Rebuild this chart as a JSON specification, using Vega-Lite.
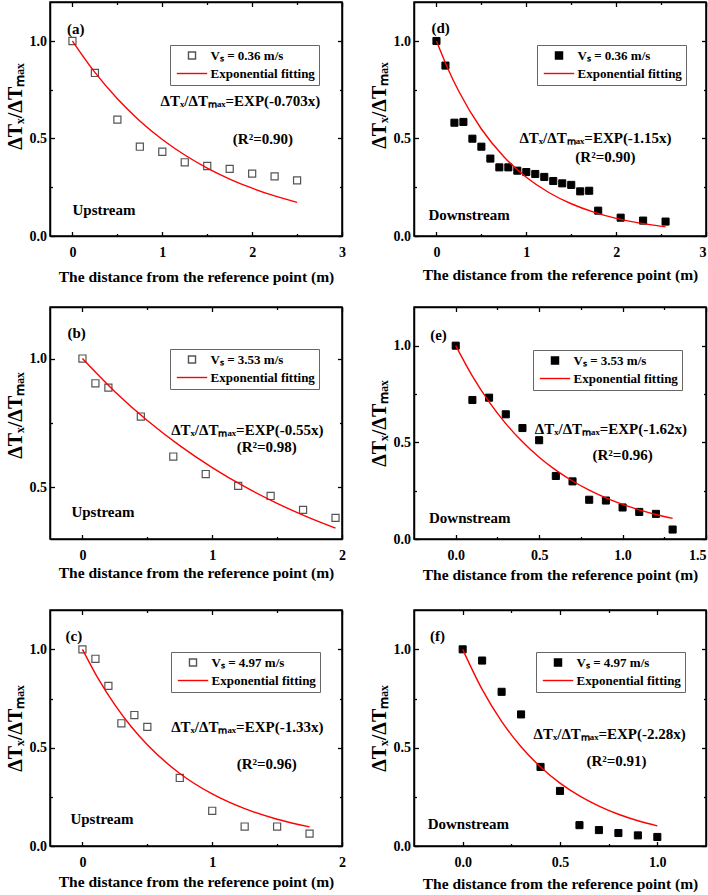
{
"$schema": "https://vega.github.io/schema/vega-lite/v6.json",
"padding": {"left": 4, "top": 0, "right": 2, "bottom": 2},
"background": "white",
"datasets": {
"obs": [
{"p":"a","s":"Vₛ = 0.36 m/s","x":0,"y":1.0},{"p":"a","s":"Vₛ = 0.36 m/s","x":0.25,"y":0.836},{"p":"a","s":"Vₛ = 0.36 m/s","x":0.5,"y":0.597},{"p":"a","s":"Vₛ = 0.36 m/s","x":0.75,"y":0.458},{"p":"a","s":"Vₛ = 0.36 m/s","x":1.0,"y":0.432},{"p":"a","s":"Vₛ = 0.36 m/s","x":1.25,"y":0.378},{"p":"a","s":"Vₛ = 0.36 m/s","x":1.5,"y":0.359},{"p":"a","s":"Vₛ = 0.36 m/s","x":1.75,"y":0.344},{"p":"a","s":"Vₛ = 0.36 m/s","x":2.0,"y":0.320},{"p":"a","s":"Vₛ = 0.36 m/s","x":2.25,"y":0.306},{"p":"a","s":"Vₛ = 0.36 m/s","x":2.5,"y":0.285},
{"p":"b","s":"Vₛ = 3.53 m/s","x":0,"y":1.0},{"p":"b","s":"Vₛ = 3.53 m/s","x":0.1,"y":0.904},{"p":"b","s":"Vₛ = 3.53 m/s","x":0.2,"y":0.887},{"p":"b","s":"Vₛ = 3.53 m/s","x":0.45,"y":0.775},{"p":"b","s":"Vₛ = 3.53 m/s","x":0.7,"y":0.620},{"p":"b","s":"Vₛ = 3.53 m/s","x":0.95,"y":0.552},{"p":"b","s":"Vₛ = 3.53 m/s","x":1.2,"y":0.506},{"p":"b","s":"Vₛ = 3.53 m/s","x":1.45,"y":0.467},{"p":"b","s":"Vₛ = 3.53 m/s","x":1.7,"y":0.413},{"p":"b","s":"Vₛ = 3.53 m/s","x":1.95,"y":0.382},
{"p":"c","s":"Vₛ = 4.97 m/s","x":0,"y":1.0},{"p":"c","s":"Vₛ = 4.97 m/s","x":0.1,"y":0.952},{"p":"c","s":"Vₛ = 4.97 m/s","x":0.2,"y":0.814},{"p":"c","s":"Vₛ = 4.97 m/s","x":0.3,"y":0.624},{"p":"c","s":"Vₛ = 4.97 m/s","x":0.4,"y":0.666},{"p":"c","s":"Vₛ = 4.97 m/s","x":0.5,"y":0.606},{"p":"c","s":"Vₛ = 4.97 m/s","x":0.75,"y":0.346},{"p":"c","s":"Vₛ = 4.97 m/s","x":1.0,"y":0.179},{"p":"c","s":"Vₛ = 4.97 m/s","x":1.25,"y":0.099},{"p":"c","s":"Vₛ = 4.97 m/s","x":1.5,"y":0.099},{"p":"c","s":"Vₛ = 4.97 m/s","x":1.75,"y":0.063},
{"p":"d","s":"Vₛ = 0.36 m/s","x":0,"y":1.0},{"p":"d","s":"Vₛ = 0.36 m/s","x":0.1,"y":0.874},{"p":"d","s":"Vₛ = 0.36 m/s","x":0.2,"y":0.581},{"p":"d","s":"Vₛ = 0.36 m/s","x":0.3,"y":0.585},{"p":"d","s":"Vₛ = 0.36 m/s","x":0.4,"y":0.499},{"p":"d","s":"Vₛ = 0.36 m/s","x":0.5,"y":0.458},{"p":"d","s":"Vₛ = 0.36 m/s","x":0.6,"y":0.397},{"p":"d","s":"Vₛ = 0.36 m/s","x":0.7,"y":0.352},{"p":"d","s":"Vₛ = 0.36 m/s","x":0.8,"y":0.352},{"p":"d","s":"Vₛ = 0.36 m/s","x":0.9,"y":0.335},{"p":"d","s":"Vₛ = 0.36 m/s","x":1.0,"y":0.328},{"p":"d","s":"Vₛ = 0.36 m/s","x":1.1,"y":0.318},{"p":"d","s":"Vₛ = 0.36 m/s","x":1.2,"y":0.303},{"p":"d","s":"Vₛ = 0.36 m/s","x":1.3,"y":0.282},{"p":"d","s":"Vₛ = 0.36 m/s","x":1.4,"y":0.270},{"p":"d","s":"Vₛ = 0.36 m/s","x":1.5,"y":0.262},{"p":"d","s":"Vₛ = 0.36 m/s","x":1.6,"y":0.229},{"p":"d","s":"Vₛ = 0.36 m/s","x":1.7,"y":0.232},{"p":"d","s":"Vₛ = 0.36 m/s","x":1.8,"y":0.130},{"p":"d","s":"Vₛ = 0.36 m/s","x":2.05,"y":0.094},{"p":"d","s":"Vₛ = 0.36 m/s","x":2.3,"y":0.079},{"p":"d","s":"Vₛ = 0.36 m/s","x":2.55,"y":0.074},
{"p":"e","s":"Vₛ = 3.53 m/s","x":0,"y":1.0},{"p":"e","s":"Vₛ = 3.53 m/s","x":0.1,"y":0.719},{"p":"e","s":"Vₛ = 3.53 m/s","x":0.2,"y":0.731},{"p":"e","s":"Vₛ = 3.53 m/s","x":0.3,"y":0.645},{"p":"e","s":"Vₛ = 3.53 m/s","x":0.4,"y":0.574},{"p":"e","s":"Vₛ = 3.53 m/s","x":0.5,"y":0.511},{"p":"e","s":"Vₛ = 3.53 m/s","x":0.6,"y":0.326},{"p":"e","s":"Vₛ = 3.53 m/s","x":0.7,"y":0.298},{"p":"e","s":"Vₛ = 3.53 m/s","x":0.8,"y":0.203},{"p":"e","s":"Vₛ = 3.53 m/s","x":0.9,"y":0.199},{"p":"e","s":"Vₛ = 3.53 m/s","x":1.0,"y":0.163},{"p":"e","s":"Vₛ = 3.53 m/s","x":1.1,"y":0.140},{"p":"e","s":"Vₛ = 3.53 m/s","x":1.2,"y":0.130},{"p":"e","s":"Vₛ = 3.53 m/s","x":1.3,"y":0.049},
{"p":"f","s":"Vₛ = 4.97 m/s","x":0,"y":1.0},{"p":"f","s":"Vₛ = 4.97 m/s","x":0.1,"y":0.943},{"p":"f","s":"Vₛ = 4.97 m/s","x":0.2,"y":0.784},{"p":"f","s":"Vₛ = 4.97 m/s","x":0.3,"y":0.669},{"p":"f","s":"Vₛ = 4.97 m/s","x":0.4,"y":0.402},{"p":"f","s":"Vₛ = 4.97 m/s","x":0.5,"y":0.280},{"p":"f","s":"Vₛ = 4.97 m/s","x":0.6,"y":0.106},{"p":"f","s":"Vₛ = 4.97 m/s","x":0.7,"y":0.081},{"p":"f","s":"Vₛ = 4.97 m/s","x":0.8,"y":0.066},{"p":"f","s":"Vₛ = 4.97 m/s","x":0.9,"y":0.054},{"p":"f","s":"Vₛ = 4.97 m/s","x":1.0,"y":0.046}
],
"fit": [
{"p":"a","s":"Exponential fitting","x":0,"y":1},{"p":"a","s":"Exponential fitting","x":0.25,"y":0.8388},{"p":"a","s":"Exponential fitting","x":0.5,"y":0.7036},{"p":"a","s":"Exponential fitting","x":0.75,"y":0.5902},{"p":"a","s":"Exponential fitting","x":1,"y":0.4951},{"p":"a","s":"Exponential fitting","x":1.25,"y":0.4153},{"p":"a","s":"Exponential fitting","x":1.5,"y":0.3484},{"p":"a","s":"Exponential fitting","x":1.75,"y":0.2922},{"p":"a","s":"Exponential fitting","x":2,"y":0.2451},{"p":"a","s":"Exponential fitting","x":2.25,"y":0.2056},{"p":"a","s":"Exponential fitting","x":2.5,"y":0.1725},
{"p":"b","s":"Exponential fitting","x":0,"y":1},{"p":"b","s":"Exponential fitting","x":0.25,"y":0.8715},{"p":"b","s":"Exponential fitting","x":0.5,"y":0.7596},{"p":"b","s":"Exponential fitting","x":0.75,"y":0.662},{"p":"b","s":"Exponential fitting","x":1,"y":0.5769},{"p":"b","s":"Exponential fitting","x":1.25,"y":0.5028},{"p":"b","s":"Exponential fitting","x":1.5,"y":0.4382},{"p":"b","s":"Exponential fitting","x":1.75,"y":0.3819},{"p":"b","s":"Exponential fitting","x":1.95,"y":0.3421},
{"p":"c","s":"Exponential fitting","x":0,"y":1},{"p":"c","s":"Exponential fitting","x":0.125,"y":0.8468},{"p":"c","s":"Exponential fitting","x":0.25,"y":0.7171},{"p":"c","s":"Exponential fitting","x":0.375,"y":0.6073},{"p":"c","s":"Exponential fitting","x":0.5,"y":0.5143},{"p":"c","s":"Exponential fitting","x":0.75,"y":0.3688},{"p":"c","s":"Exponential fitting","x":1,"y":0.2645},{"p":"c","s":"Exponential fitting","x":1.25,"y":0.1897},{"p":"c","s":"Exponential fitting","x":1.5,"y":0.136},{"p":"c","s":"Exponential fitting","x":1.75,"y":0.0975},
{"p":"d","s":"Exponential fitting","x":0,"y":1},{"p":"d","s":"Exponential fitting","x":0.125,"y":0.8607},{"p":"d","s":"Exponential fitting","x":0.25,"y":0.7408},{"p":"d","s":"Exponential fitting","x":0.5,"y":0.5488},{"p":"d","s":"Exponential fitting","x":0.75,"y":0.4066},{"p":"d","s":"Exponential fitting","x":1,"y":0.3012},{"p":"d","s":"Exponential fitting","x":1.25,"y":0.2231},{"p":"d","s":"Exponential fitting","x":1.5,"y":0.1653},{"p":"d","s":"Exponential fitting","x":1.75,"y":0.1225},{"p":"d","s":"Exponential fitting","x":2,"y":0.0907},{"p":"d","s":"Exponential fitting","x":2.25,"y":0.0672},{"p":"d","s":"Exponential fitting","x":2.55,"y":0.0469},
{"p":"e","s":"Exponential fitting","x":0,"y":1},{"p":"e","s":"Exponential fitting","x":0.1,"y":0.842},{"p":"e","s":"Exponential fitting","x":0.2,"y":0.709},{"p":"e","s":"Exponential fitting","x":0.3,"y":0.597},{"p":"e","s":"Exponential fitting","x":0.4,"y":0.503},{"p":"e","s":"Exponential fitting","x":0.5,"y":0.423},{"p":"e","s":"Exponential fitting","x":0.6,"y":0.356},{"p":"e","s":"Exponential fitting","x":0.7,"y":0.300},{"p":"e","s":"Exponential fitting","x":0.8,"y":0.253},{"p":"e","s":"Exponential fitting","x":0.9,"y":0.213},{"p":"e","s":"Exponential fitting","x":1.0,"y":0.179},{"p":"e","s":"Exponential fitting","x":1.1,"y":0.151},{"p":"e","s":"Exponential fitting","x":1.2,"y":0.127},{"p":"e","s":"Exponential fitting","x":1.3,"y":0.107},
{"p":"f","s":"Exponential fitting","x":0,"y":1},{"p":"f","s":"Exponential fitting","x":0.1,"y":0.7961},{"p":"f","s":"Exponential fitting","x":0.2,"y":0.6338},{"p":"f","s":"Exponential fitting","x":0.3,"y":0.5046},{"p":"f","s":"Exponential fitting","x":0.4,"y":0.4017},{"p":"f","s":"Exponential fitting","x":0.5,"y":0.3198},{"p":"f","s":"Exponential fitting","x":0.6,"y":0.2546},{"p":"f","s":"Exponential fitting","x":0.7,"y":0.2027},{"p":"f","s":"Exponential fitting","x":0.8,"y":0.1614},{"p":"f","s":"Exponential fitting","x":0.9,"y":0.1285},{"p":"f","s":"Exponential fitting","x":1.0,"y":0.1023}
]
},
"columns": 2,
"spacing": {"row": 71, "column": 72},
"bounds": "flush",
"resolve": {"scale": {"x": "independent", "y": "independent", "shape": "independent", "stroke": "independent", "fill": "independent"}, "legend": {"shape": "independent", "stroke": "independent", "fill": "independent"}},
"concat": [
{
"width": 292, "height": 234,
"layer": [
{"data": {"name": "obs"}, "transform": [{"filter": "datum.p === 'a'"}],
 "mark": {"type": "point", "filled": false, "opacity": 1, "strokeWidth": 1.2, "size": 50},
 "encoding": {
  "x": {"field": "x", "type": "quantitative", "scale": {"domain": [-0.25, 3], "nice": false, "zero": false},
   "axis": {"orient": "bottom", "values": [0,0.5,1,1.5,2,2.5,3], "labelExpr": "abs(datum.value - round(datum.value)) > 0.01 ? '' : format(datum.value, 'd')", "tickSize": {"condition": {"test": "abs(datum.value - round(datum.value)) > 0.01", "value": -2.5}, "value": -4.5}, "labelPadding": 13.5, "title": "The distance from the reference point (m)", "titlePadding": 8}},
  "y": {"field": "y", "type": "quantitative", "scale": {"domain": [0, 1.2], "nice": false, "zero": false},
   "axis": {"orient": "left", "values": [0,0.25,0.5,0.75,1], "labelExpr": "abs(datum.value*2 - round(datum.value*2)) > 0.01 ? '' : format(datum.value, '.1f')", "tickSize": {"condition": {"test": "abs(datum.value*2 - round(datum.value*2)) > 0.01", "value": -2.5}, "value": -4.5}, "labelPadding": 8, "title": "ΔTₓ/ΔTₘₐₓ", "titleFontSize": 20, "titlePadding": 4, "titleY": 104}},
  "shape": {"field": "s", "type": "nominal", "scale": {"domain": ["Vₛ = 0.36 m/s", "Exponential fitting"], "range": ["square", "M-4.3,0L4.3,0"]}, "legend": {"orient": "none", "legendX": 120, "legendY": 43, "title": null}},
  "stroke": {"field": "s", "type": "nominal", "scale": {"domain": ["Vₛ = 0.36 m/s", "Exponential fitting"], "range": ["#555555", "#ff0000"]}, "legend": {"orient": "none", "legendX": 120, "legendY": 43, "title": null}}
 }},
{"data": {"name": "fit"}, "transform": [{"filter": "datum.p === 'a'"}],
 "mark": {"type": "line", "strokeWidth": 1.4, "interpolate": "monotone"},
 "encoding": {
  "x": {"field": "x", "type": "quantitative", "scale": {"domain": [-0.25, 3], "nice": false, "zero": false},
   "axis": {"orient": "top", "values": [0,0.5,1,1.5,2,2.5,3], "labels": false, "title": null, "tickSize": {"condition": {"test": "abs(datum.value - round(datum.value)) > 0.01", "value": -2.5}, "value": -4.5}}},
  "y": {"field": "y", "type": "quantitative", "scale": {"domain": [0, 1.2], "nice": false, "zero": false},
   "axis": {"orient": "right", "values": [0,0.25,0.5,0.75,1], "labels": false, "title": null, "tickSize": {"condition": {"test": "abs(datum.value*2 - round(datum.value*2)) > 0.01", "value": -2.5}, "value": -4.5}}},
  "stroke": {"field": "s", "type": "nominal", "legend": {"orient": "none", "legendX": 120, "legendY": 43, "title": null}}
 }},
{"data": {"values": [{}]}, "mark": {"type": "text", "text": "(a)", "align": "left"}, "encoding": {"x": {"datum": -0.06, "type": "quantitative", "axis": null}, "y": {"datum": 1.062, "type": "quantitative", "axis": null}}},
{"data": {"values": [{}]}, "mark": {"type": "text", "text": "Upstream", "align": "left"}, "encoding": {"x": {"datum": 0.0, "type": "quantitative", "axis": null}, "y": {"datum": 0.133, "type": "quantitative", "axis": null}}},
{"data": {"values": [{}]}, "mark": {"type": "text", "text": "ΔTₓ/ΔTₘₐₓ=EXP(-0.703x)", "align": "center"}, "encoding": {"x": {"datum": 1.87, "type": "quantitative", "axis": null}, "y": {"datum": 0.692, "type": "quantitative", "axis": null}}},
{"data": {"values": [{}]}, "mark": {"type": "text", "text": "(R²=0.90)", "align": "center"}, "encoding": {"x": {"datum": 2.12, "type": "quantitative", "axis": null}, "y": {"datum": 0.50, "type": "quantitative", "axis": null}}}
]
},
{
"width": 292, "height": 234,
"layer": [
{"data": {"name": "obs"}, "transform": [{"filter": "datum.p === 'd'"}],
 "mark": {"type": "point", "filled": true, "opacity": 1, "strokeWidth": 1, "size": 50},
 "encoding": {
  "x": {"field": "x", "type": "quantitative", "scale": {"domain": [-0.25, 3], "nice": false, "zero": false},
   "axis": {"orient": "bottom", "values": [0,0.5,1,1.5,2,2.5,3], "labelFlush": true, "labelExpr": "abs(datum.value - round(datum.value)) > 0.01 ? '' : format(datum.value, 'd')", "tickSize": {"condition": {"test": "abs(datum.value - round(datum.value)) > 0.01", "value": -2.5}, "value": -4.5}, "labelPadding": 13.5, "title": "The distance from the reference point (m)", "titlePadding": 6}},
  "y": {"field": "y", "type": "quantitative", "scale": {"domain": [0, 1.2], "nice": false, "zero": false},
   "axis": {"orient": "left", "values": [0,0.25,0.5,0.75,1], "labelExpr": "abs(datum.value*2 - round(datum.value*2)) > 0.01 ? '' : format(datum.value, '.1f')", "tickSize": {"condition": {"test": "abs(datum.value*2 - round(datum.value*2)) > 0.01", "value": -2.5}, "value": -4.5}, "labelPadding": 8, "title": "ΔTₓ/ΔTₘₐₓ", "titleFontSize": 20, "titlePadding": 4, "titleY": 103}},
  "shape": {"field": "s", "type": "nominal", "scale": {"domain": ["Vₛ = 0.36 m/s", "Exponential fitting"], "range": ["square", "M-4.3,0L4.3,0"]}, "legend": {"orient": "none", "legendX": 123, "legendY": 43, "title": null}},
  "fill": {"field": "s", "type": "nominal", "scale": {"domain": ["Vₛ = 0.36 m/s", "Exponential fitting"], "range": ["#000000", "#ff0000"]}, "legend": {"orient": "none", "legendX": 123, "legendY": 43, "title": null}},
  "stroke": {"field": "s", "type": "nominal", "scale": {"domain": ["Vₛ = 0.36 m/s", "Exponential fitting"], "range": ["#000000", "#ff0000"]}, "legend": {"orient": "none", "legendX": 123, "legendY": 43, "title": null}}
 }},
{"data": {"name": "fit"}, "transform": [{"filter": "datum.p === 'd'"}],
 "mark": {"type": "line", "strokeWidth": 1.4, "interpolate": "monotone"},
 "encoding": {
  "x": {"field": "x", "type": "quantitative", "scale": {"domain": [-0.25, 3], "nice": false, "zero": false},
   "axis": {"orient": "top", "values": [0,0.5,1,1.5,2,2.5,3], "labels": false, "title": null, "tickSize": {"condition": {"test": "abs(datum.value - round(datum.value)) > 0.01", "value": -2.5}, "value": -4.5}}},
  "y": {"field": "y", "type": "quantitative", "scale": {"domain": [0, 1.2], "nice": false, "zero": false},
   "axis": {"orient": "right", "values": [0,0.25,0.5,0.75,1], "labels": false, "title": null, "tickSize": {"condition": {"test": "abs(datum.value*2 - round(datum.value*2)) > 0.01", "value": -2.5}, "value": -4.5}}},
  "stroke": {"field": "s", "type": "nominal", "legend": {"orient": "none", "legendX": 123, "legendY": 43, "title": null}}
 }},
{"data": {"values": [{}]}, "mark": {"type": "text", "text": "(d)", "align": "left"}, "encoding": {"x": {"datum": -0.055, "type": "quantitative", "axis": null}, "y": {"datum": 1.065, "type": "quantitative", "axis": null}}},
{"data": {"values": [{}]}, "mark": {"type": "text", "text": "Downstream", "align": "left"}, "encoding": {"x": {"datum": -0.09, "type": "quantitative", "axis": null}, "y": {"datum": 0.108, "type": "quantitative", "axis": null}}},
{"data": {"values": [{}]}, "mark": {"type": "text", "text": "ΔTₓ/ΔTₘₐₓ=EXP(-1.15x)", "align": "center"}, "encoding": {"x": {"datum": 1.77, "type": "quantitative", "axis": null}, "y": {"datum": 0.503, "type": "quantitative", "axis": null}}},
{"data": {"values": [{}]}, "mark": {"type": "text", "text": "(R²=0.90)", "align": "center"}, "encoding": {"x": {"datum": 1.88, "type": "quantitative", "axis": null}, "y": {"datum": 0.405, "type": "quantitative", "axis": null}}}
]
},
{
"width": 292, "height": 232,
"layer": [
{"data": {"name": "obs"}, "transform": [{"filter": "datum.p === 'b'"}],
 "mark": {"type": "point", "filled": false, "opacity": 1, "strokeWidth": 1.2, "size": 50},
 "encoding": {
  "x": {"field": "x", "type": "quantitative", "scale": {"domain": [-0.25, 2], "nice": false, "zero": false},
   "axis": {"orient": "bottom", "values": [0,0.5,1,1.5,2], "labelExpr": "abs(datum.value - round(datum.value)) > 0.01 ? '' : format(datum.value, 'd')", "tickSize": {"condition": {"test": "abs(datum.value - round(datum.value)) > 0.01", "value": -2.5}, "value": -4.5}, "labelPadding": 13.5, "title": "The distance from the reference point (m)", "titlePadding": 1}},
  "y": {"field": "y", "type": "quantitative", "scale": {"domain": [0.3, 1.2], "nice": false, "zero": false},
   "axis": {"orient": "left", "values": [0.5,0.75,1], "labelExpr": "abs(datum.value*2 - round(datum.value*2)) > 0.01 ? '' : format(datum.value, '.1f')", "tickSize": {"condition": {"test": "abs(datum.value*2 - round(datum.value*2)) > 0.01", "value": -2.5}, "value": -4.5}, "labelPadding": 8, "title": "ΔTₓ/ΔTₘₐₓ", "titleFontSize": 20, "titlePadding": 4, "titleY": 108}},
  "shape": {"field": "s", "type": "nominal", "scale": {"domain": ["Vₛ = 3.53 m/s", "Exponential fitting"], "range": ["square", "M-4.3,0L4.3,0"]}, "legend": {"orient": "none", "legendX": 120, "legendY": 42, "title": null}},
  "stroke": {"field": "s", "type": "nominal", "scale": {"domain": ["Vₛ = 3.53 m/s", "Exponential fitting"], "range": ["#555555", "#ff0000"]}, "legend": {"orient": "none", "legendX": 120, "legendY": 42, "title": null}}
 }},
{"data": {"name": "fit"}, "transform": [{"filter": "datum.p === 'b'"}],
 "mark": {"type": "line", "strokeWidth": 1.4, "interpolate": "monotone"},
 "encoding": {
  "x": {"field": "x", "type": "quantitative", "scale": {"domain": [-0.25, 2], "nice": false, "zero": false},
   "axis": {"orient": "top", "values": [0,0.5,1,1.5,2], "labels": false, "title": null, "tickSize": {"condition": {"test": "abs(datum.value - round(datum.value)) > 0.01", "value": -2.5}, "value": -4.5}}},
  "y": {"field": "y", "type": "quantitative", "scale": {"domain": [0.3, 1.2], "nice": false, "zero": false},
   "axis": {"orient": "right", "values": [0.5,0.75,1], "labels": false, "title": null, "tickSize": {"condition": {"test": "abs(datum.value*2 - round(datum.value*2)) > 0.01", "value": -2.5}, "value": -4.5}}},
  "stroke": {"field": "s", "type": "nominal", "legend": {"orient": "none", "legendX": 120, "legendY": 42, "title": null}}
 }},
{"data": {"values": [{}]}, "mark": {"type": "text", "text": "(b)", "align": "left"}, "encoding": {"x": {"datum": -0.116, "type": "quantitative", "axis": null}, "y": {"datum": 1.10, "type": "quantitative", "axis": null}}},
{"data": {"values": [{}]}, "mark": {"type": "text", "text": "Upstream", "align": "left"}, "encoding": {"x": {"datum": -0.085, "type": "quantitative", "axis": null}, "y": {"datum": 0.405, "type": "quantitative", "axis": null}}},
{"data": {"values": [{}]}, "mark": {"type": "text", "text": "ΔTₓ/ΔTₘₐₓ=EXP(-0.55x)", "align": "center"}, "encoding": {"x": {"datum": 1.27, "type": "quantitative", "axis": null}, "y": {"datum": 0.721, "type": "quantitative", "axis": null}}},
{"data": {"values": [{}]}, "mark": {"type": "text", "text": "(R²=0.98)", "align": "center"}, "encoding": {"x": {"datum": 1.42, "type": "quantitative", "axis": null}, "y": {"datum": 0.656, "type": "quantitative", "axis": null}}}
]
},
{
"width": 292, "height": 232,
"layer": [
{"data": {"name": "obs"}, "transform": [{"filter": "datum.p === 'e'"}],
 "mark": {"type": "point", "filled": true, "opacity": 1, "strokeWidth": 1, "size": 50},
 "encoding": {
  "x": {"field": "x", "type": "quantitative", "scale": {"domain": [-0.25, 1.5], "nice": false, "zero": false},
   "axis": {"orient": "bottom", "values": [0,0.25,0.5,0.75,1,1.25,1.5], "labelFlush": true, "labelExpr": "abs(datum.value*2 - round(datum.value*2)) > 0.01 ? '' : format(datum.value, '.1f')", "tickSize": {"condition": {"test": "abs(datum.value*2 - round(datum.value*2)) > 0.01", "value": -2.5}, "value": -4.5}, "labelPadding": 13.5, "title": "The distance from the reference point (m)", "titlePadding": 3}},
  "y": {"field": "y", "type": "quantitative", "scale": {"domain": [0, 1.2], "nice": false, "zero": false},
   "axis": {"orient": "left", "values": [0,0.25,0.5,0.75,1], "labelExpr": "abs(datum.value*2 - round(datum.value*2)) > 0.01 ? '' : format(datum.value, '.1f')", "tickSize": {"condition": {"test": "abs(datum.value*2 - round(datum.value*2)) > 0.01", "value": -2.5}, "value": -4.5}, "labelPadding": 8, "title": "ΔTₓ/ΔTₘₐₓ", "titleFontSize": 20, "titlePadding": 4}},
  "shape": {"field": "s", "type": "nominal", "scale": {"domain": ["Vₛ = 3.53 m/s", "Exponential fitting"], "range": ["square", "M-4.3,0L4.3,0"]}, "legend": {"orient": "none", "legendX": 119, "legendY": 43, "title": null}},
  "fill": {"field": "s", "type": "nominal", "scale": {"domain": ["Vₛ = 3.53 m/s", "Exponential fitting"], "range": ["#000000", "#ff0000"]}, "legend": {"orient": "none", "legendX": 119, "legendY": 43, "title": null}},
  "stroke": {"field": "s", "type": "nominal", "scale": {"domain": ["Vₛ = 3.53 m/s", "Exponential fitting"], "range": ["#000000", "#ff0000"]}, "legend": {"orient": "none", "legendX": 119, "legendY": 43, "title": null}}
 }},
{"data": {"name": "fit"}, "transform": [{"filter": "datum.p === 'e'"}],
 "mark": {"type": "line", "strokeWidth": 1.4, "interpolate": "monotone"},
 "encoding": {
  "x": {"field": "x", "type": "quantitative", "scale": {"domain": [-0.25, 1.5], "nice": false, "zero": false},
   "axis": {"orient": "top", "values": [0,0.25,0.5,0.75,1,1.25,1.5], "labels": false, "title": null, "tickSize": {"condition": {"test": "abs(datum.value*2 - round(datum.value*2)) > 0.01", "value": -2.5}, "value": -4.5}}},
  "y": {"field": "y", "type": "quantitative", "scale": {"domain": [0, 1.2], "nice": false, "zero": false},
   "axis": {"orient": "right", "values": [0,0.25,0.5,0.75,1], "labels": false, "title": null, "tickSize": {"condition": {"test": "abs(datum.value*2 - round(datum.value*2)) > 0.01", "value": -2.5}, "value": -4.5}}},
  "stroke": {"field": "s", "type": "nominal", "legend": {"orient": "none", "legendX": 119, "legendY": 43, "title": null}}
 }},
{"data": {"values": [{}]}, "mark": {"type": "text", "text": "(e)", "align": "left"}, "encoding": {"x": {"datum": -0.153, "type": "quantitative", "axis": null}, "y": {"datum": 1.057, "type": "quantitative", "axis": null}}},
{"data": {"values": [{}]}, "mark": {"type": "text", "text": "Downstream", "align": "left"}, "encoding": {"x": {"datum": -0.16, "type": "quantitative", "axis": null}, "y": {"datum": 0.109, "type": "quantitative", "axis": null}}},
{"data": {"values": [{}]}, "mark": {"type": "text", "text": "ΔTₓ/ΔTₘₐₓ=EXP(-1.62x)", "align": "center"}, "encoding": {"x": {"datum": 0.93, "type": "quantitative", "axis": null}, "y": {"datum": 0.57, "type": "quantitative", "axis": null}}},
{"data": {"values": [{}]}, "mark": {"type": "text", "text": "(R²=0.96)", "align": "center"}, "encoding": {"x": {"datum": 1.0, "type": "quantitative", "axis": null}, "y": {"datum": 0.435, "type": "quantitative", "axis": null}}}
]
},
{
"width": 292, "height": 236,
"layer": [
{"data": {"name": "obs"}, "transform": [{"filter": "datum.p === 'c'"}],
 "mark": {"type": "point", "filled": false, "opacity": 1, "strokeWidth": 1.2, "size": 50},
 "encoding": {
  "x": {"field": "x", "type": "quantitative", "scale": {"domain": [-0.25, 2], "nice": false, "zero": false},
   "axis": {"orient": "bottom", "values": [0,0.5,1,1.5,2], "labelExpr": "abs(datum.value - round(datum.value)) > 0.01 ? '' : format(datum.value, 'd')", "tickSize": {"condition": {"test": "abs(datum.value - round(datum.value)) > 0.01", "value": -2.5}, "value": -4.5}, "labelPadding": 13.5, "title": "The distance from the reference point (m)", "titlePadding": 3}},
  "y": {"field": "y", "type": "quantitative", "scale": {"domain": [0, 1.2], "nice": false, "zero": false},
   "axis": {"orient": "left", "values": [0,0.25,0.5,0.75,1], "labelExpr": "abs(datum.value*2 - round(datum.value*2)) > 0.01 ? '' : format(datum.value, '.1f')", "tickSize": {"condition": {"test": "abs(datum.value*2 - round(datum.value*2)) > 0.01", "value": -2.5}, "value": -4.5}, "labelPadding": 8, "title": "ΔTₓ/ΔTₘₐₓ", "titleFontSize": 20, "titlePadding": 4}},
  "shape": {"field": "s", "type": "nominal", "scale": {"domain": ["Vₛ = 4.97 m/s", "Exponential fitting"], "range": ["square", "M-4.3,0L4.3,0"]}, "legend": {"orient": "none", "legendX": 121, "legendY": 42, "title": null}},
  "stroke": {"field": "s", "type": "nominal", "scale": {"domain": ["Vₛ = 4.97 m/s", "Exponential fitting"], "range": ["#555555", "#ff0000"]}, "legend": {"orient": "none", "legendX": 121, "legendY": 42, "title": null}}
 }},
{"data": {"name": "fit"}, "transform": [{"filter": "datum.p === 'c'"}],
 "mark": {"type": "line", "strokeWidth": 1.4, "interpolate": "monotone"},
 "encoding": {
  "x": {"field": "x", "type": "quantitative", "scale": {"domain": [-0.25, 2], "nice": false, "zero": false},
   "axis": {"orient": "top", "values": [0,0.5,1,1.5,2], "labels": false, "title": null, "tickSize": {"condition": {"test": "abs(datum.value - round(datum.value)) > 0.01", "value": -2.5}, "value": -4.5}}},
  "y": {"field": "y", "type": "quantitative", "scale": {"domain": [0, 1.2], "nice": false, "zero": false},
   "axis": {"orient": "right", "values": [0,0.25,0.5,0.75,1], "labels": false, "title": null, "tickSize": {"condition": {"test": "abs(datum.value*2 - round(datum.value*2)) > 0.01", "value": -2.5}, "value": -4.5}}},
  "stroke": {"field": "s", "type": "nominal", "legend": {"orient": "none", "legendX": 121, "legendY": 42, "title": null}}
 }},
{"data": {"values": [{}]}, "mark": {"type": "text", "text": "(c)", "align": "left"}, "encoding": {"x": {"datum": -0.13, "type": "quantitative", "axis": null}, "y": {"datum": 1.07, "type": "quantitative", "axis": null}}},
{"data": {"values": [{}]}, "mark": {"type": "text", "text": "Upstream", "align": "left"}, "encoding": {"x": {"datum": -0.093, "type": "quantitative", "axis": null}, "y": {"datum": 0.138, "type": "quantitative", "axis": null}}},
{"data": {"values": [{}]}, "mark": {"type": "text", "text": "ΔTₓ/ΔTₘₐₓ=EXP(-1.33x)", "align": "center"}, "encoding": {"x": {"datum": 1.27, "type": "quantitative", "axis": null}, "y": {"datum": 0.607, "type": "quantitative", "axis": null}}},
{"data": {"values": [{}]}, "mark": {"type": "text", "text": "(R²=0.96)", "align": "center"}, "encoding": {"x": {"datum": 1.42, "type": "quantitative", "axis": null}, "y": {"datum": 0.418, "type": "quantitative", "axis": null}}}
]
},
{
"width": 292, "height": 236,
"layer": [
{"data": {"name": "obs"}, "transform": [{"filter": "datum.p === 'f'"}],
 "mark": {"type": "point", "filled": true, "opacity": 1, "strokeWidth": 1, "size": 50},
 "encoding": {
  "x": {"field": "x", "type": "quantitative", "scale": {"domain": [-0.25, 1.25], "nice": false, "zero": false},
   "axis": {"orient": "bottom", "values": [0,0.25,0.5,0.75,1], "labelExpr": "abs(datum.value*2 - round(datum.value*2)) > 0.01 ? '' : format(datum.value, '.1f')", "tickSize": {"condition": {"test": "abs(datum.value*2 - round(datum.value*2)) > 0.01", "value": -2.5}, "value": -4.5}, "labelPadding": 13.5, "title": "The distance from the reference point (m)", "titlePadding": 5}},
  "y": {"field": "y", "type": "quantitative", "scale": {"domain": [0, 1.2], "nice": false, "zero": false},
   "axis": {"orient": "left", "values": [0,0.25,0.5,0.75,1], "labelExpr": "abs(datum.value*2 - round(datum.value*2)) > 0.01 ? '' : format(datum.value, '.1f')", "tickSize": {"condition": {"test": "abs(datum.value*2 - round(datum.value*2)) > 0.01", "value": -2.5}, "value": -4.5}, "labelPadding": 8, "title": "ΔTₓ/ΔTₘₐₓ", "titleFontSize": 20, "titlePadding": 4}},
  "shape": {"field": "s", "type": "nominal", "scale": {"domain": ["Vₛ = 4.97 m/s", "Exponential fitting"], "range": ["square", "M-4.3,0L4.3,0"]}, "legend": {"orient": "none", "legendX": 122, "legendY": 42, "title": null}},
  "fill": {"field": "s", "type": "nominal", "scale": {"domain": ["Vₛ = 4.97 m/s", "Exponential fitting"], "range": ["#000000", "#ff0000"]}, "legend": {"orient": "none", "legendX": 122, "legendY": 42, "title": null}},
  "stroke": {"field": "s", "type": "nominal", "scale": {"domain": ["Vₛ = 4.97 m/s", "Exponential fitting"], "range": ["#000000", "#ff0000"]}, "legend": {"orient": "none", "legendX": 122, "legendY": 42, "title": null}}
 }},
{"data": {"name": "fit"}, "transform": [{"filter": "datum.p === 'f'"}],
 "mark": {"type": "line", "strokeWidth": 1.4, "interpolate": "monotone"},
 "encoding": {
  "x": {"field": "x", "type": "quantitative", "scale": {"domain": [-0.25, 1.25], "nice": false, "zero": false},
   "axis": {"orient": "top", "values": [0,0.25,0.5,0.75,1], "labels": false, "title": null, "tickSize": {"condition": {"test": "abs(datum.value*2 - round(datum.value*2)) > 0.01", "value": -2.5}, "value": -4.5}}},
  "y": {"field": "y", "type": "quantitative", "scale": {"domain": [0, 1.2], "nice": false, "zero": false},
   "axis": {"orient": "right", "values": [0,0.25,0.5,0.75,1], "labels": false, "title": null, "tickSize": {"condition": {"test": "abs(datum.value*2 - round(datum.value*2)) > 0.01", "value": -2.5}, "value": -4.5}}},
  "stroke": {"field": "s", "type": "nominal", "legend": {"orient": "none", "legendX": 122, "legendY": 42, "title": null}}
 }},
{"data": {"values": [{}]}, "mark": {"type": "text", "text": "(f)", "align": "left"}, "encoding": {"x": {"datum": -0.168, "type": "quantitative", "axis": null}, "y": {"datum": 1.066, "type": "quantitative", "axis": null}}},
{"data": {"values": [{}]}, "mark": {"type": "text", "text": "Downstream", "align": "left"}, "encoding": {"x": {"datum": -0.18, "type": "quantitative", "axis": null}, "y": {"datum": 0.111, "type": "quantitative", "axis": null}}},
{"data": {"values": [{}]}, "mark": {"type": "text", "text": "ΔTₓ/ΔTₘₐₓ=EXP(-2.28x)", "align": "center"}, "encoding": {"x": {"datum": 0.755, "type": "quantitative", "axis": null}, "y": {"datum": 0.571, "type": "quantitative", "axis": null}}},
{"data": {"values": [{}]}, "mark": {"type": "text", "text": "(R²=0.91)", "align": "center"}, "encoding": {"x": {"datum": 0.79, "type": "quantitative", "axis": null}, "y": {"datum": 0.43, "type": "quantitative", "axis": null}}}
]
}
],
"config": {
"view": {"stroke": "black", "strokeWidth": 1.5},
"font": "Liberation Serif",
"axis": {"grid": false, "domainColor": "black", "domainWidth": 1.5, "tickColor": "black", "tickWidth": 1.3, "labelFont": "Liberation Serif", "labelFontSize": 14, "labelFontWeight": "bold", "labelColor": "black", "labelFlush": false, "labelOverlap": false, "titleFont": "Liberation Serif", "titleFontSize": 15.5, "titleFontWeight": "bold", "titleColor": "black"},
"legend": {"strokeColor": "#666666", "fillColor": "white", "padding": 4, "rowPadding": 4, "symbolSize": 50, "symbolOffset": 11.5, "labelOffset": 12, "labelFont": "Liberation Serif", "labelFontSize": 13, "labelFontWeight": "bold", "labelColor": "black", "labelLimit": 0, "symbolStrokeWidth": 1.4},
"text": {"font": "Liberation Serif", "fontSize": 15, "fontWeight": "bold", "color": "black", "baseline": "middle"}
}
}
